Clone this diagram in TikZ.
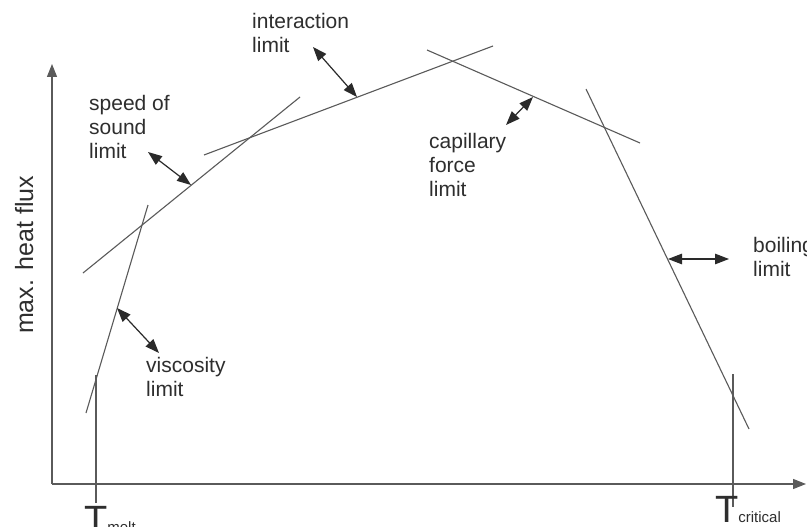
\documentclass[tikz,border=0pt]{standalone}
\usepackage{fontspec}
\setmainfont{Liberation Sans}
\usetikzlibrary{arrows.meta}
\definecolor{linegray}{HTML}{5A5A5A}
\definecolor{arrowgray}{HTML}{2A2A2A}
\definecolor{txt}{HTML}{2E2E2E}
\begin{document}
\begin{tikzpicture}[x=1pt,y=-1pt,
  limitline/.style={draw=linegray, line width=1.1pt},
  dbl/.style={draw=arrowgray, line width=1.2pt, {Triangle[length=14pt,width=10.5pt]}-{Triangle[length=14pt,width=10.5pt]}},
  axisline/.style={draw=linegray, line width=1.1pt, -{Triangle[length=13pt,width=10pt]}},
  tline/.style={draw=linegray, line width=1.1pt},
  lab/.style={anchor=north west, inner sep=0pt, align=left, text=txt, font=\fontsize{21}{24}\selectfont},
  tlab/.style={anchor=base west, inner sep=0pt, text=txt}]
\useasboundingbox (0,0) rectangle (807,527);
\fill[white] (0,0) rectangle (807,527);

% axes
\coordinate (O) at (52,484);
\coordinate (Ytop) at (52,64);
\coordinate (Xend) at (806,484);
\draw[axisline] (O) -- (Ytop);
\draw[axisline] (O) -- (Xend);

% temperature markers
\coordinate (m1) at (96,375);
\coordinate (m2) at (96,503);
\coordinate (c1) at (733,374);
\coordinate (c2) at (733,507);
\draw[tline] (m1) -- (m2);
\draw[tline] (c1) -- (c2);
\node[tlab] (tmelt) at (84,532) {\fontsize{38}{38}\selectfont T\fontsize{15}{15}\selectfont melt};
\node[tlab] (tcrit) at (715,522) {\fontsize{38}{38}\selectfont T\fontsize{15}{15}\selectfont critical};

% limit lines
\coordinate (v1) at (86,413);   \coordinate (v2) at (148,205);
\coordinate (s1) at (83,273);   \coordinate (s2) at (300,97);
\coordinate (i1) at (204,155);  \coordinate (i2) at (493,46);
\coordinate (k1) at (427,50);   \coordinate (k2) at (640,143);
\coordinate (b1) at (586,89);   \coordinate (b2) at (749,429);
\draw[limitline] (v1) -- (v2);
\draw[limitline] (s1) -- (s2);
\draw[limitline] (i1) -- (i2);
\draw[limitline] (k1) -- (k2);
\draw[limitline] (b1) -- (b2);

% labels
\node[lab] (linter) at (252,13) {interaction\\limit};
\node[lab] (lspeed) at (89,95) {speed of\\sound\\limit};
\node[lab] (lcap) at (429,133) {capillary\\force\\limit};
\node[lab] (lboil) at (753,237) {boiling\\limit};
\node[lab] (lvisc) at (146,357) {viscosity\\limit};
\node[anchor=base, rotate=90, inner sep=0pt, text=txt, font=\fontsize{25}{25}\selectfont] (ylab) at (33,255) {max. heat flux};

% double arrows
\coordinate (ai1) at (313,47);  \coordinate (ai2) at (357,97);
\coordinate (as1) at (148,152); \coordinate (as2) at (191,185);
\coordinate (ak1) at (533,97);  \coordinate (ak2) at (506,125);
\coordinate (av1) at (117,308); \coordinate (av2) at (159,353);
\coordinate (ab1) at (668,259); \coordinate (ab2) at (729,259);
\draw[dbl] (ai1) -- (ai2);
\draw[dbl] (as1) -- (as2);
\draw[dbl] (ak1) -- (ak2);
\draw[dbl] (av1) -- (av2);
\draw[dbl] (ab1) -- (ab2);
\end{tikzpicture}
\end{document}
